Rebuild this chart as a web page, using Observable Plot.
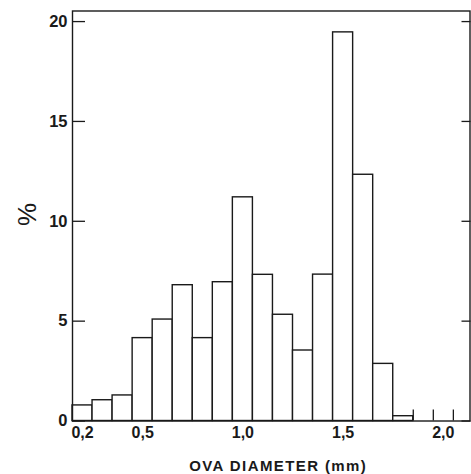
<!DOCTYPE html>
<html>
<head>
<meta charset="utf-8">
<script src="https://cdn.jsdelivr.net/npm/d3@7"></script>
<script src="https://cdn.jsdelivr.net/npm/@observablehq/plot@0.6"></script>
<style>
  html, body { margin: 0; padding: 0; background: #fff; }
  svg { display: block; }
  .xtitle text { letter-spacing: 1.4px; }
</style>
</head>
<body>
<div id="chart"></div>
<script>
// Bin centres (mm), bin width 0.1 mm
const binCenters = [0.2, 0.3, 0.4, 0.5, 0.6, 0.7, 0.8, 0.9, 1.0, 1.1, 1.2, 1.3, 1.4, 1.5, 1.6, 1.7, 1.8];
const percents   = [0.78, 1.04, 1.28, 4.15, 5.08, 6.80, 4.15, 6.95, 11.2, 7.32, 5.32, 3.53, 7.33, 19.46, 12.33, 2.86, 0.24];
const binWidth = 0.1;
// empty bins shown only by their edge marks
const emptyBinEdges = [1.85, 1.95, 2.05];
const emptyEdgeHeight = 0.55;

const xTickValues = [0.2, 0.5, 1.0, 1.5, 2.0];
const xTickLabels = ["0,2", "0,5", "1,0", "1,5", "2,0"];
const yTickValues = [0, 5, 10, 15, 20];

const xTitle = "OVA DIAMETER (mm)";
const yTitle = "%";

const data = binCenters.map((c, i) => ({bin: c, pct: percents[i]}));

const font = "'Liberation Sans', Arial, Helvetica, sans-serif";
const ink = "#1a1a1a";

const chart = Plot.plot({
  width: 471,
  height: 474,
  marginLeft: 72,
  marginRight: 1.5,
  marginTop: 10.5,
  marginBottom: 53.5,
  style: {fontFamily: font, color: ink, background: "white"},
  x: {domain: [0.15, 2.133]},
  y: {domain: [0, 20.53]},
  marks: [
    Plot.rectY(data, {
      x1: d => d.bin - binWidth / 2,
      x2: d => d.bin + binWidth / 2,
      y: "pct",
      fill: "white",
      stroke: ink,
      strokeWidth: 1.4
    }),
    Plot.ruleX(emptyBinEdges, {x: d => d, y1: 0, y2: emptyEdgeHeight, stroke: ink, strokeWidth: 1.3}),
    Plot.frame({stroke: ink, strokeWidth: 1.4}),
    // left labels
    Plot.axisY(yTickValues, {anchor: "left", tickSize: 0, tickPadding: 5, fontSize: 16.5, fontWeight: "bold", label: null}),
    // left inward ticks
    Plot.axisY(yTickValues, {anchor: "left", tickSize: 13, dx: 13, fill: "none", stroke: ink, strokeWidth: 1.3, label: null}),
    // right inward ticks
    Plot.axisY(yTickValues, {anchor: "right", tickSize: 9, dx: -9, fill: "none", stroke: ink, strokeWidth: 1.3, label: null}),
    Plot.axisX(xTickValues, {
      anchor: "bottom", tickSize: 0, tickPadding: 6,
      tickFormat: d => xTickLabels[xTickValues.indexOf(d)],
      fontSize: 16, fontWeight: "bold", label: null
    }),
    Plot.text([yTitle], {frameAnchor: "left", dx: -45, dy: 10, rotate: -90, fontSize: 26, fontWeight: "normal", fill: ink}),
    Plot.text([xTitle], {frameAnchor: "bottom", dx: 7, dy: 45, fontSize: 15, fontWeight: "bold", fill: ink, lineAnchor: "middle", className: "xtitle"})
  ]
});
document.getElementById("chart").appendChild(chart);
</script>
</body>
</html>
